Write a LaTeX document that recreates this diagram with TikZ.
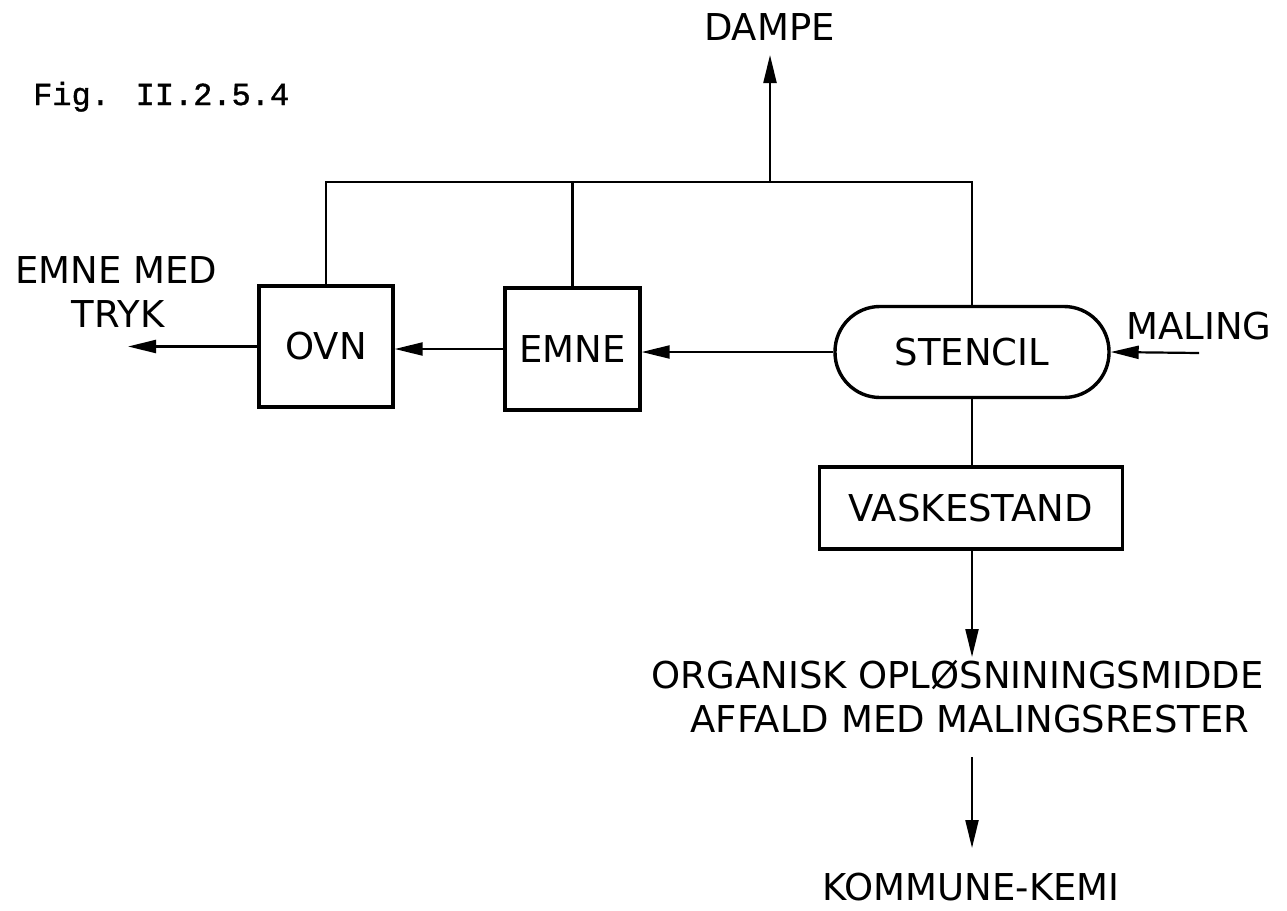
\documentclass[tikz,border=0pt]{standalone}
\usepackage{fontspec}
\setmainfont{DejaVu Sans}
\newfontfamily\figfont[FakeBold=1.2]{Liberation Mono}
\usetikzlibrary{arrows.meta}
\begin{document}
\begin{tikzpicture}[x=1pt,y=-1pt,
  lbl/.style={font=\fontsize{37}{44}\selectfont, inner sep=0pt, anchor=base},
  box/.style={draw, line width=3.4pt, inner sep=0pt, font=\fontsize{37}{44}\selectfont},
  flow/.style={line width=2.2pt},
  arr/.style={flow, -{Triangle[length=28pt,width=13pt]}}]
\useasboundingbox (0,0) rectangle (1287,910);
% title
\node[font=\figfont\fontsize{32}{36}\selectfont, inner sep=0pt, anchor=base west] (fig) at (33,105) {Fig. II.2.5.4};
% boxes
\node[box, minimum width=134pt, minimum height=121pt] (ovn) at (326,346.5) {OVN};
\node[box, minimum width=135pt, minimum height=122pt] (emne) at (572.5,349) {EMNE};
\node[box, rounded corners=45pt, minimum width=274pt, minimum height=91pt] (sten) at (972,352) {STENCIL};
\node[box, minimum width=303pt, minimum height=82pt] (vask) at (971,508) {VASKESTAND};
% labels
\node[lbl] (dampe) at (769.5,40) {DAMPE};
\node[lbl] (emed) at (116,283) {EMNE MED};
\node[lbl] (tryk) at (118,327) {TRYK};
\node[lbl] (maling) at (1199,339) {MALING};
\node[lbl] (org1) at (957.5,688) {ORGANISK OPLØSNININGSMIDDE};
\node[lbl] (org2) at (970,732) {AFFALD MED MALINGSRESTER};
\node[lbl] (komm) at (971,900) {KOMMUNE-KEMI};
% junctions and free ends
\coordinate (j1) at (326,182);
\coordinate (j2) at (572.5,182);
\coordinate (j3) at (770,182);
\coordinate (j4) at (972,182);
\coordinate (dtip) at (770,55);
\coordinate (m0) at (1199,353);
\coordinate (out) at (128,346.5);
\coordinate (t1) at (972,657);
\coordinate (s2) at (972,757);
\coordinate (t2) at (972,848);
% exhaust collector
\draw[flow] (ovn.north) -- (j1) -- (j4) -- (sten.north);
\draw[flow] (emne.north) -- (j2);
\draw[arr] (j3) -- (dtip);
% main flow
\draw[arr] (m0) -- (sten.east);
\draw[arr] (sten.west) -- (sten.west -| emne.east);
\draw[arr] (emne.west) -- (emne.west -| ovn.east);
\draw[arr] (ovn.west) -- (out);
% washing
\draw[flow] (sten.south) -- (vask.north -| sten.south);
\draw[arr] (vask.south -| sten.south) -- (t1);
\draw[arr] (s2) -- (t2);
\end{tikzpicture}
\end{document}
